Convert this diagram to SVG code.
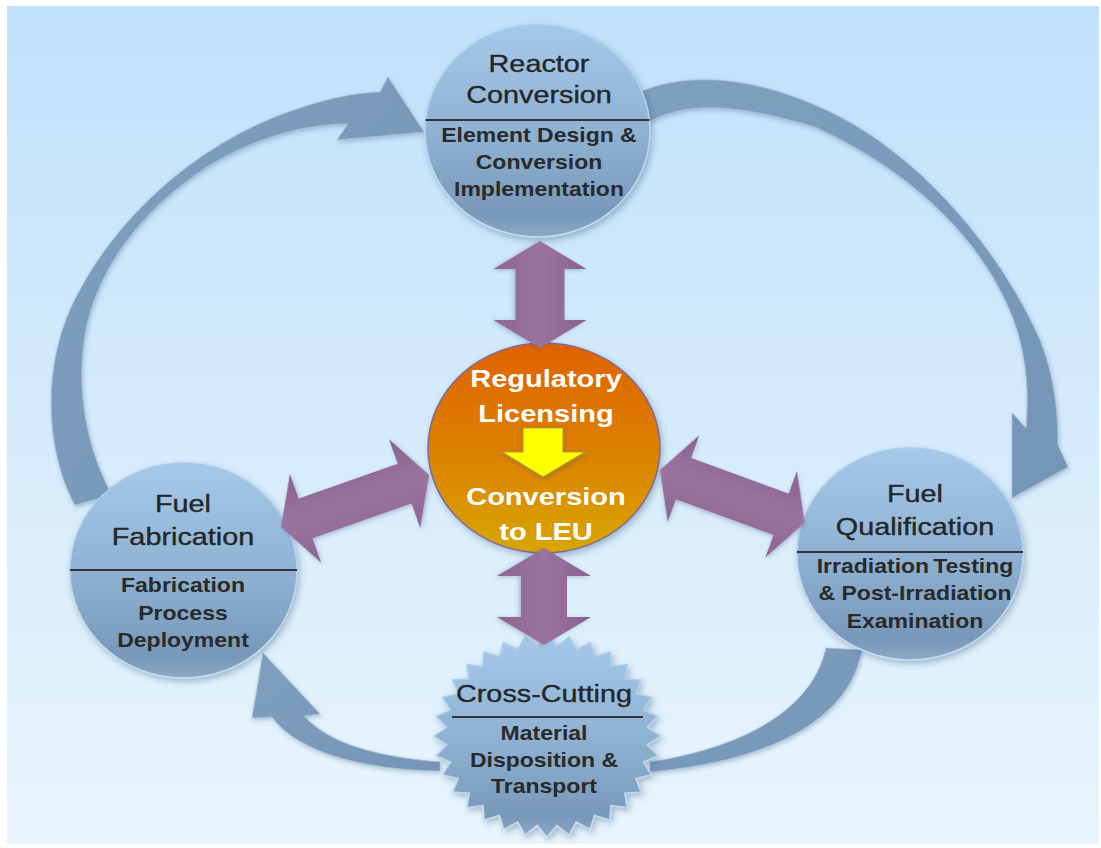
<svg xmlns="http://www.w3.org/2000/svg" width="1101" height="848" viewBox="0 0 1101 848">
  <defs>
    <linearGradient id="bg" x1="0" y1="0" x2="0" y2="1">
      <stop offset="0" stop-color="#c0e1fa"/>
      <stop offset="1" stop-color="#e9f5fd"/>
    </linearGradient>
    <linearGradient id="ball" x1="0" y1="0" x2="0" y2="1">
      <stop offset="0" stop-color="#a5c9ea"/>
      <stop offset="0.5" stop-color="#8fb2d3"/>
      <stop offset="0.9" stop-color="#7898b9"/>
      <stop offset="1" stop-color="#8aa9c8"/>
    </linearGradient>
    <linearGradient id="ballEdge" x1="0" y1="0" x2="0" y2="1">
      <stop offset="0" stop-color="#a9cbea"/>
      <stop offset="1" stop-color="#c4dcf0"/>
    </linearGradient>
    <linearGradient id="core" x1="0" y1="0" x2="0" y2="1">
      <stop offset="0" stop-color="#df6200"/>
      <stop offset="0.5" stop-color="#dc7f00"/>
      <stop offset="1" stop-color="#d6a600"/>
    </linearGradient>
    <linearGradient id="link" x1="0" y1="0" x2="0" y2="1">
      <stop offset="0" stop-color="#8a6290"/>
      <stop offset="0.5" stop-color="#9a739f"/>
      <stop offset="1" stop-color="#8c6592"/>
    </linearGradient>
    <linearGradient id="cycle" x1="0" y1="0" x2="1" y2="1">
      <stop offset="0" stop-color="#7f9fbf"/>
      <stop offset="1" stop-color="#7595b6"/>
    </linearGradient>
    <filter id="shadow" x="-20%" y="-20%" width="140%" height="140%">
      <feDropShadow dx="2" dy="3" stdDeviation="3" flood-color="#2b4a6a" flood-opacity="0.35"/>
    </filter>
    <filter id="softShadow" x="-20%" y="-20%" width="140%" height="140%">
      <feDropShadow dx="1" dy="2" stdDeviation="2" flood-color="#2b4a6a" flood-opacity="0.3"/>
    </filter>
    <style>
      .ball { fill: url(#ball); stroke: url(#ballEdge); stroke-width: 1.5; filter: url(#shadow); }
      .title { font-family: "Liberation Sans", Arial, sans-serif; font-size: 24px; fill: #262626; stroke: #262626; stroke-width: 0.35px; text-anchor: middle; }
      .sub { font-family: "Liberation Sans", Arial, sans-serif; font-size: 20px; font-weight: bold; fill: #2a2a2a; text-anchor: middle; }
      .core-text { font-family: "Liberation Sans", Arial, sans-serif; font-size: 24px; font-weight: bold; fill: #ffffff; text-anchor: middle; }
      .rule { stroke: #333333; stroke-width: 2; }
      .cycle { fill: url(#cycle); stroke: #a3bfd9; stroke-width: 0.8; filter: url(#softShadow); }
      .link { fill: url(#link); filter: url(#softShadow); }
    </style>
  </defs>

  <!-- backdrop -->
  <rect x="0" y="0" width="1101" height="848" fill="#ffffff"/>
  <rect x="7" y="6" width="1092" height="838" fill="url(#bg)"/>

  <!-- cycle arrows running round the outer ring -->
  <g id="cycle-connectors">
    <!-- Fuel Fabrication to Reactor Conversion -->
    <path class="cycle" d="M 75,505 C 45,450 40,360 80,290 C 120,215 200,140 300,108 C 330,98 355,93 380,92 L 388,77 L 424,132 L 337,140 L 348,124 C 300,124 250,140 205,168 C 150,205 105,255 88,320 C 75,375 82,440 112,495 Z"/>
    <!-- Reactor Conversion to Fuel Qualification -->
    <path class="cycle" d="M 640,92 C 690,70 760,78 830,112 C 920,155 1000,250 1040,340 C 1055,378 1058,415 1058,445 L 1068,467 L 1012,498 L 1012,413 L 1026,428 C 1030,385 1025,340 1005,300 C 975,235 910,170 815,127 C 740,105 690,100 648,122 Z"/>
    <!-- Fuel Qualification to Cross-Cutting -->
    <path class="cycle" d="M 826,648 C 815,700 760,745 650,762 L 650,772 C 780,760 850,715 862,650 Z"/>
    <!-- Cross-Cutting to Fuel Fabrication -->
    <path class="cycle" d="M 440,762 C 380,757 330,745 304,716 L 320,714 L 263,653 L 252,718 L 272,717 C 300,755 370,770 440,771 Z"/>
  </g>

  <!-- Reactor Conversion -->
  <g id="node-reactor">
    <ellipse class="ball" cx="537.5" cy="131" rx="112.5" ry="106"/>
    <line class="rule" x1="425.5" y1="120" x2="649.5" y2="120"/>
    <text class="title" x="539" y="72" transform="matrix(1.2 0 0 1 -107.8 0)">Reactor</text>
    <text class="title" x="539" y="103" transform="matrix(1.2 0 0 1 -107.8 0)">Conversion</text>
    <text class="sub" x="539" y="142" transform="matrix(1.15 0 0 1 -80.85 0)">Element Design &amp;</text>
    <text class="sub" x="539" y="169" transform="matrix(1.15 0 0 1 -80.85 0)">Conversion</text>
    <text class="sub" x="539" y="196" transform="matrix(1.15 0 0 1 -80.85 0)">Implementation</text>
  </g>

  <!-- Fuel Fabrication -->
  <g id="node-fabrication">
    <ellipse class="ball" cx="183.5" cy="570.5" rx="113.5" ry="107.5"/>
    <line class="rule" x1="70" y1="570" x2="297" y2="570"/>
    <text class="title" x="183" y="512" transform="matrix(1.2 0 0 1 -36.6 0)">Fuel</text>
    <text class="title" x="183" y="545" transform="matrix(1.2 0 0 1 -36.6 0)">Fabrication</text>
    <text class="sub" x="183" y="592" transform="matrix(1.15 0 0 1 -27.45 0)">Fabrication</text>
    <text class="sub" x="183" y="620" transform="matrix(1.15 0 0 1 -27.45 0)">Process</text>
    <text class="sub" x="183" y="647" transform="matrix(1.15 0 0 1 -27.45 0)">Deployment</text>
  </g>

  <!-- Fuel Qualification -->
  <g id="node-qualification">
    <ellipse class="ball" cx="910" cy="554" rx="113" ry="106"/>
    <line class="rule" x1="797" y1="552" x2="1023" y2="552"/>
    <text class="title" x="915" y="502" transform="matrix(1.2 0 0 1 -183 0)">Fuel</text>
    <text class="title" x="915" y="535" transform="matrix(1.2 0 0 1 -183 0)">Qualification</text>
    <text class="sub" x="915" y="573" word-spacing="-2" transform="matrix(1.15 0 0 1 -137.25 0)">Irradiation Testing</text>
    <text class="sub" x="915" y="600" transform="matrix(1.15 0 0 1 -137.25 0)">&amp; Post-Irradiation</text>
    <text class="sub" x="915" y="628" transform="matrix(1.15 0 0 1 -137.25 0)">Examination</text>
  </g>

  <!-- Cross-Cutting -->
  <g id="node-crosscutting">
    <g transform="translate(547 736) scale(1.12 1)">
      <polygon class="ball" points="101,0 89.57,8.82 99.06,19.7 86.12,26.13 93.31,38.65 79.37,42.43 83.98,56.11 69.57,57.1 71.42,71.42 57.1,69.57 56.11,83.98 42.43,79.37 38.65,93.31 26.13,86.12 19.7,99.06 8.82,89.57 0,101 -8.82,89.57 -19.7,99.06 -26.13,86.12 -38.65,93.31 -42.43,79.37 -56.11,83.98 -57.1,69.57 -71.42,71.42 -69.57,57.1 -83.98,56.11 -79.37,42.43 -93.31,38.65 -86.12,26.13 -99.06,19.7 -89.57,8.82 -101,0 -89.57,-8.82 -99.06,-19.7 -86.12,-26.13 -93.31,-38.65 -79.37,-42.43 -83.98,-56.11 -69.57,-57.1 -71.42,-71.42 -57.1,-69.57 -56.11,-83.98 -42.43,-79.37 -38.65,-93.31 -26.13,-86.12 -19.7,-99.06 -8.82,-89.57 0,-101 8.82,-89.57 19.7,-99.06 26.13,-86.12 38.65,-93.31 42.43,-79.37 56.11,-83.98 57.1,-69.57 71.42,-71.42 69.57,-57.1 83.98,-56.11 79.37,-42.43 93.31,-38.65 86.12,-26.13 99.06,-19.7 89.57,-8.82"/>
    </g>
    <line class="rule" x1="452" y1="717" x2="643" y2="717"/>
    <text class="title" x="544" y="702" transform="matrix(1.2 0 0 1 -108.8 0)">Cross-Cutting</text>
    <text class="sub" x="544" y="740" transform="matrix(1.15 0 0 1 -81.6 0)">Material</text>
    <text class="sub" x="544" y="767" transform="matrix(1.15 0 0 1 -81.6 0)">Disposition &amp;</text>
    <text class="sub" x="544" y="793" transform="matrix(1.15 0 0 1 -81.6 0)">Transport</text>
  </g>

  <!-- Regulatory Licensing hub -->
  <g id="node-regulatory">
    <ellipse cx="544" cy="448" rx="116" ry="105" fill="url(#core)" stroke="#7d6a9c" stroke-width="1.5" filter="url(#shadow)"/>
    <text class="core-text" x="546" y="387" transform="matrix(1.21 0 0 1 -114.66 0)">Regulatory</text>
    <text class="core-text" x="546" y="422" transform="matrix(1.21 0 0 1 -114.66 0)">Licensing</text>
    <polygon points="523,428 563,428 563,452 585,452 543,477 502,452 523,452" fill="#ffff00" stroke="#b8973a" stroke-width="1.2" filter="url(#softShadow)"/>
    <text class="core-text" x="546" y="505" transform="matrix(1.21 0 0 1 -114.66 0)">Conversion</text>
    <text class="core-text" x="546" y="540" transform="matrix(1.21 0 0 1 -114.66 0)">to LEU</text>
  </g>

  <!-- two-way links between the hub and each area -->
  <g id="link-connectors">
    <polygon class="link" transform="translate(540 241) rotate(90)" points="0,0 28,-46.5 28,-24.5 79,-24.5 79,-46.5 107,0 79,46.5 79,24.5 28,24.5 28,46.5"/>
    <polygon class="link" transform="translate(544 548) rotate(90)" points="0,0 28,-47 28,-23 69,-23 69,-47 97,0 69,47 69,23 28,23 28,47"/>
    <polygon class="link" transform="translate(281 527) rotate(-19.36)" points="0,0 26,-47 26,-21 131,-21 131,-47 157,0 131,47 131,21 26,21 26,47"/>
    <polygon class="link" transform="translate(660 470) rotate(20.07)" points="0,0 25,-46 25,-22 129,-22 129,-46 154,0 129,46 129,22 25,22 25,46"/>
  </g>
</svg>
